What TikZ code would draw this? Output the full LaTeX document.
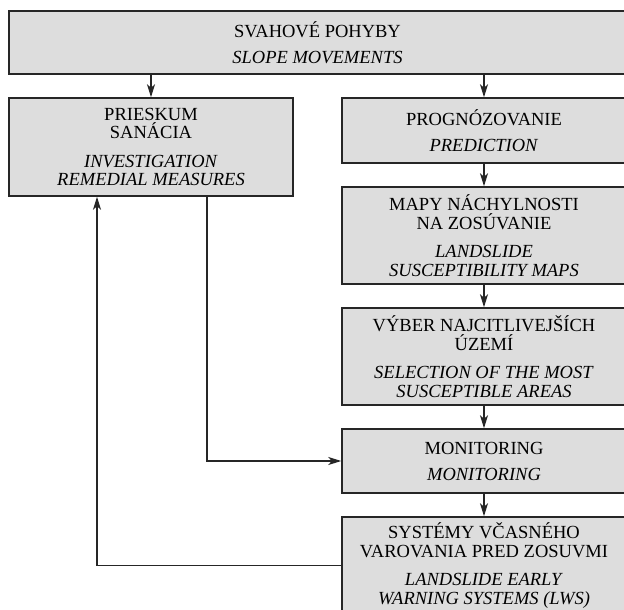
\documentclass[tikz,border=0pt]{standalone}
\usepackage{fontspec}
\setmainfont{Liberation Serif}
\usetikzlibrary{arrows.meta}
\definecolor{boxfill}{RGB}{221,221,221}
\definecolor{ink}{RGB}{38,38,38}
\begin{document}
\begin{tikzpicture}[x=1pt,y=-1pt,
  box/.style={draw=ink, line width=1.5pt, fill=boxfill, inner sep=0pt,
    align=center, text=black, minimum width=284pt,
    font=\fontsize{18.5}{18.5}\selectfont},
  arr/.style={draw=ink, line width=1.3pt,
    -{Stealth[length=13pt,width=8pt,inset=3.5pt]}}]
\useasboundingbox (0,0) rectangle (624,610);
\clip (0,0) rectangle (624,610);
\node[box, minimum width=617pt, minimum height=63pt] (top) at (317.5,42.5)
  {SVAHOVÉ POHYBY\\[7.5pt]\textit{SLOPE MOVEMENTS}};
\node[box, minimum height=98pt] (left) at (151,147)
  {PRIESKUM\\SANÁCIA\\[10pt]\textit{INVESTIGATION}\\\textit{REMEDIAL MEASURES}};
\node[box, minimum height=65pt] (pred) at (484,130.5)
  {PROGNÓZOVANIE\\[7.5pt]\textit{PREDICTION}};
\node[box, minimum height=97pt] (maps) at (484,235.5)
  {MAPY NÁCHYLNOSTI\\NA ZOSÚVANIE\\[10pt]\textit{LANDSLIDE}\\\textit{SUSCEPTIBILITY MAPS}};
\node[box, minimum height=97pt] (sel) at (484,356.5)
  {VÝBER NAJCITLIVEJŠÍCH\\ÚZEMÍ\\[10pt]\textit{SELECTION OF THE MOST}\\\textit{SUSCEPTIBLE AREAS}};
\node[box, minimum height=64pt] (mon) at (484,461)
  {MONITORING\\[7.5pt]\textit{MONITORING}};
\node[box, minimum height=97pt] (lws) at (484,565.5)
  {SYSTÉMY VČASNÉHO\\VAROVANIA PRED ZOSUVMI\\[10pt]\textit{LANDSLIDE EARLY}\\\textit{WARNING SYSTEMS (LWS)}};
\coordinate (tA) at (207,0);
\coordinate (tB) at (97,0);
\draw[arr] (left.north |- top.south) -- (left.north);
\draw[arr] (pred.north |- top.south) -- (pred.north);
\draw[arr] (pred) -- (maps);
\draw[arr] (maps) -- (sel);
\draw[arr] (sel) -- (mon);
\draw[arr] (mon) -- (lws);
\draw[arr] (left.south -| tA) |- (mon.west);
\draw[arr] (lws.west) -| (left.south -| tB);
\end{tikzpicture}
\end{document}
